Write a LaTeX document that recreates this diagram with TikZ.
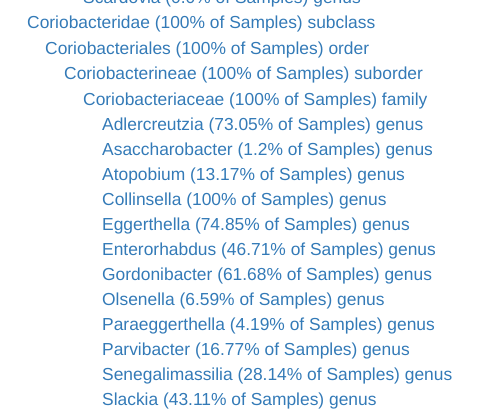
\documentclass[tikz,border=0pt]{standalone}
\usepackage{fontspec}
\setmainfont{Liberation Sans}
\definecolor{taxlink}{HTML}{337AB7}

\begin{document}
\begin{tikzpicture}[x=1pt,y=1pt,
    taxon/.style={anchor=base west,inner sep=0pt,text=taxlink,font=\fontsize{17.4}{20}\selectfont}]
    \clip (0,0) rectangle (483,-416);
    % ranks above genus
    \node[taxon] (scardovia) at (83,-3) {Scardovia (0.0\% of Samples) genus};
    \node[taxon] (subclass) at (27,-28) {Coriobacteridae (100\% of Samples) subclass};
    \node[taxon] (order) at (45,-54) {Coriobacteriales (100\% of Samples) order};
    \node[taxon] (suborder) at (64,-79) {Coriobacterineae (100\% of Samples) suborder};
    \node[taxon] (family) at (83,-105) {Coriobacteriaceae (100\% of Samples) family};
    % genera
    \foreach \name/\label [count=\i] in {adlercreutzia/Adlercreutzia (73.05\% of Samples) genus,
        asaccharobacter/Asaccharobacter (1.2\% of Samples) genus,
        atopobium/Atopobium (13.17\% of Samples) genus,
        collinsella/Collinsella (100\% of Samples) genus,
        eggerthella/Eggerthella (74.85\% of Samples) genus,
        enterorhabdus/Enterorhabdus (46.71\% of Samples) genus,
        gordonibacter/Gordonibacter (61.68\% of Samples) genus,
        olsenella/Olsenella (6.59\% of Samples) genus,
        paraeggerthella/Paraeggerthella (4.19\% of Samples) genus,
        parvibacter/Parvibacter (16.77\% of Samples) genus,
        senegalimassilia/Senegalimassilia (28.14\% of Samples) genus,
        slackia/Slackia (43.11\% of Samples) genus}
        \node[taxon] (\name) at (102,-105-25*\i) {\label};
\end{tikzpicture}
\end{document}
